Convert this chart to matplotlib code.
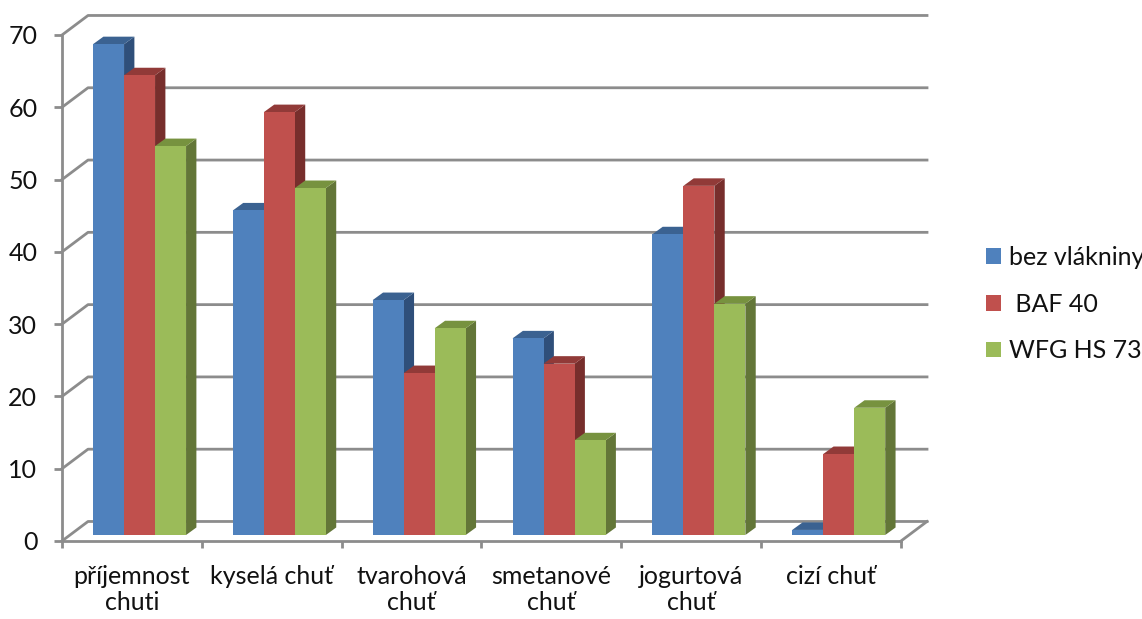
#!/usr/bin/env python3
import matplotlib
matplotlib.use("Agg")
import matplotlib.pyplot as plt
from matplotlib.patches import Patch

plt.rcParams["font.family"] = ["Lato", "DejaVu Sans"]

categories = ["příjemnost\nchuti", "kyselá chuť", "tvarohová\nchuť",
              "smetanové\nchuť", "jogurtová\nchuť", "cizí chuť"]
bez_vlakniny = [67.9, 44.9, 32.5, 27.2, 41.6, 0.7]
baf_40 = [63.6, 58.5, 22.4, 23.7, 48.3, 11.2]
wfg_hs_73 = [53.8, 48.0, 28.6, 13.1, 32.0, 17.6]
y_ticks = [0, 10, 20, 30, 40, 50, 60, 70]

series = [
    ("bez vlákniny", bez_vlakniny, "#4F81BD", "#3B6291", "#2F4F7A"),
    (" BAF 40", baf_40, "#C0504D", "#913A38", "#772E2C"),
    ("WFG HS 73", wfg_hs_73, "#9BBB59", "#77923F", "#637638"),
]

GRID = "#8C8C8C"
TEXT = "#111111"
FS = 18

W, H = 1142, 619
fig = plt.figure(figsize=(W / 100, H / 100), dpi=100)
ax = fig.add_axes([62 / W, 1 - 541 / H, (901 - 62) / W, (541 - 35) / H])
ax.set_xlim(0, 6)
ax.set_ylim(0, 70)
ax.patch.set_visible(False)

# fake 3d offsets, in axis units
wall_dx, wall_dy = 0.186, 2.7
bar_dx, bar_dy = 0.074, 1.04
base = 0.83
bar_w = 0.2217
bar_start = 0.222

# back wall gridlines and the floor edge
for v in y_ticks:
    ax.plot([0, wall_dx, 6 + wall_dx], [v, v + wall_dy, v + wall_dy],
            color=GRID, lw=2, clip_on=False, zorder=1)
ax.plot([6, 6 + wall_dx], [0, wall_dy], color=GRID, lw=2, clip_on=False, zorder=1)

for s, (name, vals, front, top, side) in enumerate(series):
    for i, v in enumerate(vals):
        x0 = i + bar_start + s * bar_w
        x1 = x0 + bar_w
        y1 = base + v
        z = 3 + s
        ax.fill([x1, x1 + bar_dx, x1 + bar_dx, x1],
                [base, base + bar_dy, y1 + bar_dy, y1],
                color=side, lw=0, clip_on=False, zorder=z)
        ax.fill([x0, x0 + bar_dx, x1 + bar_dx, x1],
                [y1, y1 + bar_dy, y1 + bar_dy, y1],
                color=top, lw=0, clip_on=False, zorder=z)
        ax.bar(x0, v, width=bar_w, bottom=base, align="edge", color=front,
               linewidth=0, zorder=z)

for side_name in ("top", "right"):
    ax.spines[side_name].set_visible(False)
for side_name in ("left", "bottom"):
    ax.spines[side_name].set_color(GRID)
    ax.spines[side_name].set_linewidth(2)

ax.set_yticks(y_ticks)
ax.tick_params(axis="y", length=5.8, width=2, color=GRID, labelsize=FS,
               labelcolor=TEXT, pad=12)
ax.set_xticks(range(7))
ax.set_xticklabels([])
ax.tick_params(axis="x", which="major", length=5.2, width=2, color=GRID)
ax.set_xticks([i + 0.5 for i in range(6)], minor=True)
ax.set_xticklabels(categories, minor=True, fontsize=FS, color=TEXT, linespacing=1.2)
ax.tick_params(axis="x", which="minor", length=0, pad=17)

handles = [Patch(facecolor=c[2], label=c[0]) for c in series]
fig.legend(handles=handles, loc="center left", bbox_to_anchor=(986 / W, 1 - 304 / H),
           frameon=False, fontsize=FS, labelcolor=TEXT, handlelength=0.6,
           handleheight=0.6, handletextpad=0.32, labelspacing=0.95,
           borderpad=0, borderaxespad=0)

fig.savefig("out.png", dpi=100)
